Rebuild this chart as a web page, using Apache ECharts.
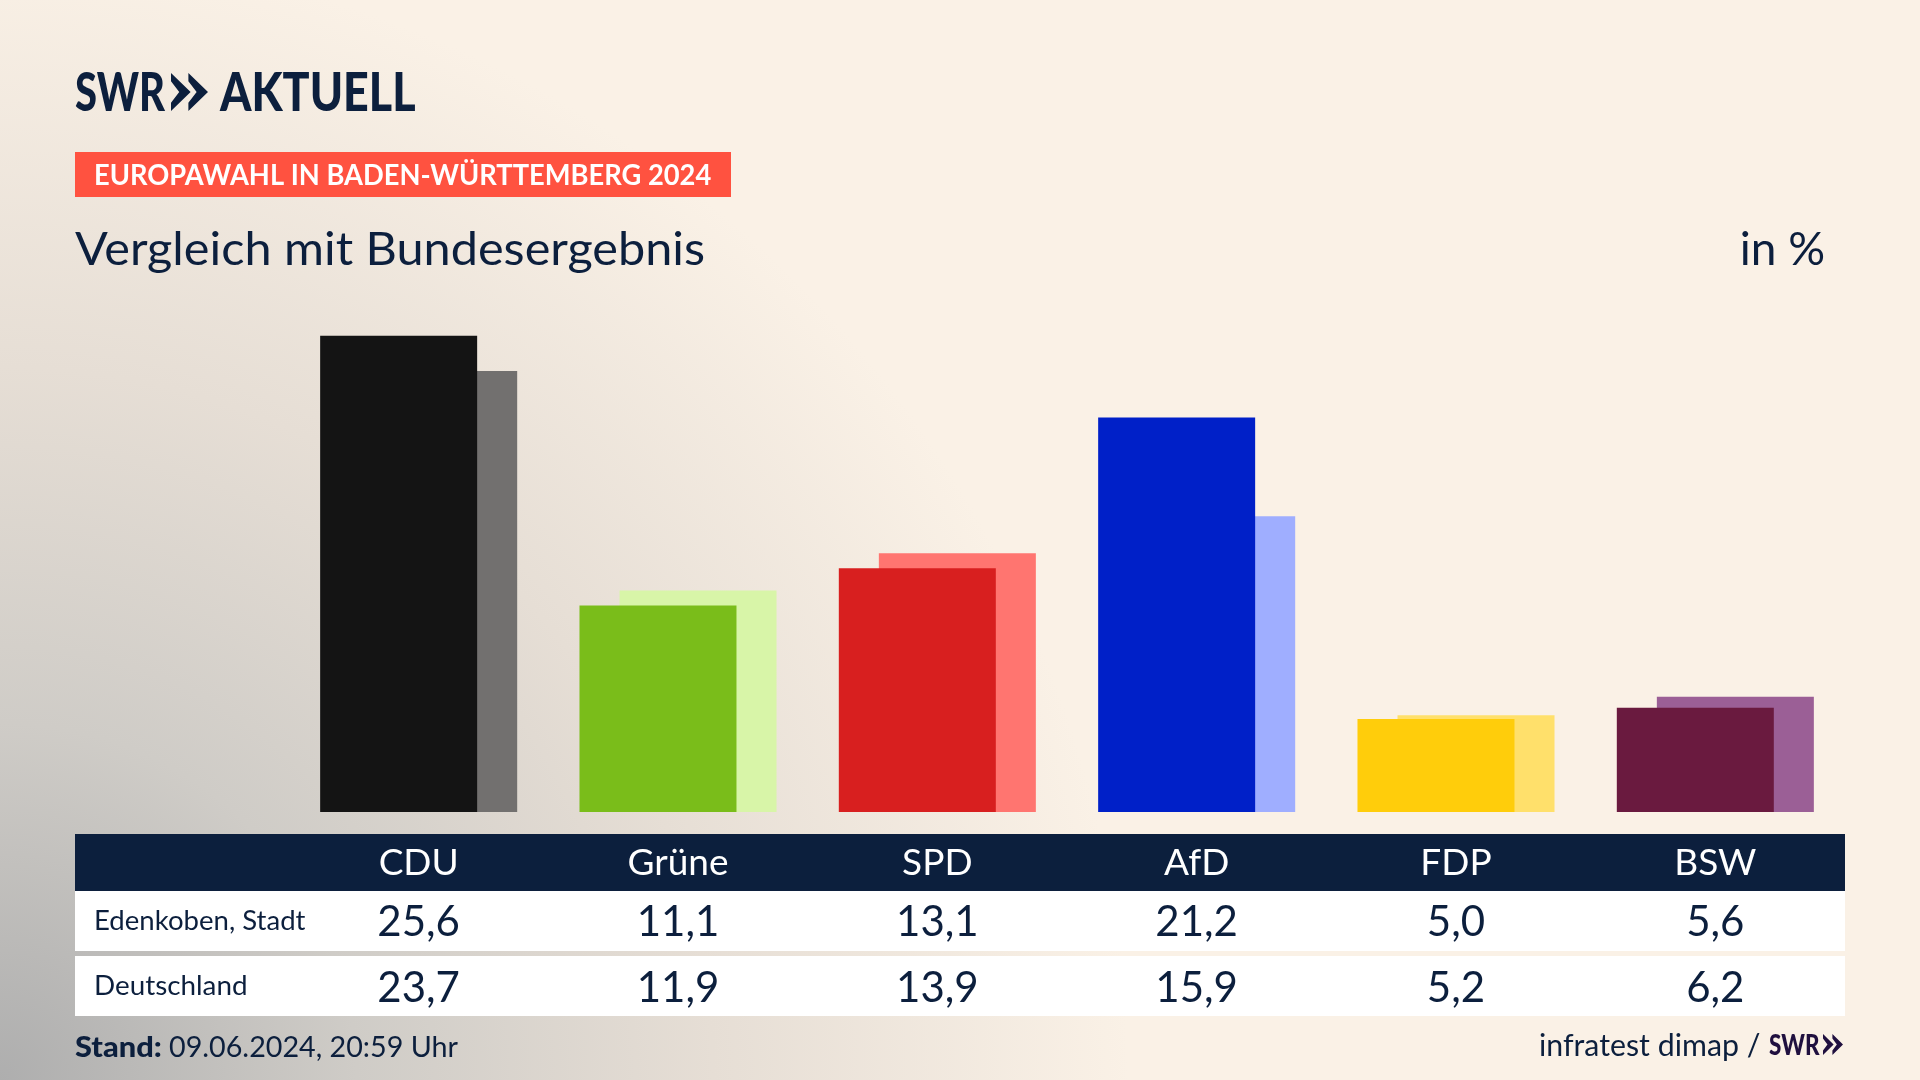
<!DOCTYPE html>
<html>
<head>
<meta charset="utf-8">
<title>Vergleich mit Bundesergebnis</title>
<script src="https://cdn.jsdelivr.net/npm/echarts@6/dist/echarts.min.js"></script>
<style>
html,body{margin:0;padding:0;background:#faf1e6;}
#chart{width:1920px;height:1080px;}
</style>
</head>
<body>
<div id="chart"></div>
<script>
var parties = ['CDU', 'Grüne', 'SPD', 'AfD', 'FDP', 'BSW'];
var edenkoben = [25.6, 11.1, 13.1, 21.2, 5.0, 5.6];
var deutschland = [23.7, 11.9, 13.9, 15.9, 5.2, 6.2];
var frontColors = ['#141414', '#7abd1a', '#d81f1f', '#0020c8', '#ffcd0b', '#6a1a3f'];
var backColors = ['#72706f', '#d8f5a8', '#ff7570', '#9faeff', '#ffe06b', '#9b5f96'];
var rowNames = ['Edenkoben, Stadt', 'Deutschland'];

var navy = '#0c1f3d';
var font = 'Lato';

function comma(v){
    return v.toFixed(1).replace('.', ',');
}
function colored(values, colors){
    return values.map(function(v, i){
        return {value: v, itemStyle: {color: colors[i]}};
    });
}
// one hidden category axis per table row, only the labels show
function tableAxis(data, margin, color, size){
    return {
        type: 'category',
        position: 'bottom',
        gridIndex: 0,
        z: 5,
        data: data,
        axisLine: {show: false},
        axisTick: {show: false},
        axisLabel: {
            show: true,
            interval: 0,
            margin: margin,
            color: color,
            fontFamily: font,
            fontSize: size,
            verticalAlign: 'middle'
        }
    };
}
function txt(x, y, text, size, color, weight, align, sx){
    return {
        type: 'text',
        x: x,
        y: y,
        scaleX: sx || 1,
        z: 10,
        style: {
            text: text,
            fontFamily: font,
            fontSize: size,
            fontWeight: weight || 'normal',
            fill: color,
            textAlign: align || 'left',
            textVerticalAlign: 'middle'
        }
    };
}
function box(x, y, w, h, color){
    return {type: 'rect', shape: {x: x, y: y, width: w, height: h}, style: {fill: color}, z: 1};
}
// the two arrow heads of the SWR logo
function chevrons(x, y, w, h, color){
    var out = [];
    [0, w * 0.47].forEach(function(dx){
        var cw = w * 0.53;
        out.push({
            type: 'polygon',
            z: 10,
            shape: {points: [
                [x + dx, y], [x + dx + cw, y + h / 2], [x + dx, y + h],
                [x + dx, y + h * 0.78], [x + dx + cw * 0.42, y + h / 2], [x + dx, y + h * 0.22]
            ]},
            style: {fill: color}
        });
    });
    return out;
}

var graphics = [
    box(75, 152, 656, 45, '#ff5240'),
    box(75, 834, 1770, 57, navy),
    box(75, 891, 1770, 60, '#ffffff'),
    box(75, 956, 1770, 60, '#ffffff'),
    txt(75, 94, 'SWR', 54, navy, '900', 'left', 0.74),
    txt(220, 94, 'AKTUELL', 54, navy, '900', 'left', 0.83),
    txt(94, 176, 'EUROPAWAHL IN BADEN-WÜRTTEMBERG 2024', 28, '#ffffff', 'bold', 'left', 0.975),
    txt(75, 250, 'Vergleich mit Bundesergebnis', 46, navy, 'normal', 'left', 1.057),
    txt(1825, 250, 'in %', 46, navy, 'normal', 'right'),
    txt(94, 922, rowNames[0], 26, navy, 'normal', 'left', 1.06),
    txt(94, 987, rowNames[1], 26, navy, 'normal', 'left', 1.07),
    txt(75, 1048, 'Stand:', 28, navy, '900', 'left', 1.1),
    txt(169, 1048, '09.06.2024, 20:59 Uhr', 28, navy, 'normal', 'left', 1.025),
    txt(1539, 1046, 'infratest dimap /', 30, navy, 'normal', 'left', 1.01),
    txt(1769, 1046, 'SWR', 28, '#20103f', '900', 'left', 0.8)
].concat(chevrons(171, 73, 37, 38, navy), chevrons(1823, 1034, 20, 21, '#20103f'));

var chart = echarts.init(document.getElementById('chart'));
chart.setOption({
    animation: false,
    backgroundColor: {
        type: 'radial',
        x: 0,
        y: 1,
        r: 1.1,
        colorStops: [
            {offset: 0, color: '#aeaeae'},
            {offset: 0.3, color: '#cfccc7'},
            {offset: 0.6, color: '#e6ded5'},
            {offset: 0.95, color: '#faf1e6'},
            {offset: 1, color: '#faf1e6'}
        ]
    },
    grid: {left: 289, right: 75, top: 291, bottom: 268},
    xAxis: [
        tableAxis(parties, 51, '#ffffff', 37),
        tableAxis(edenkoben.map(comma), 110, navy, 42),
        tableAxis(deutschland.map(comma), 176, navy, 42)
    ],
    yAxis: {type: 'value', min: 0, max: 28, show: false},
    graphic: graphics,
    series: [
        {
            name: rowNames[0],
            type: 'bar',
            z: 3,
            barWidth: 157,
            barGap: '-74.5%',
            data: colored(edenkoben, frontColors)
        },
        {
            name: rowNames[1],
            type: 'bar',
            z: 2,
            barWidth: 157,
            data: colored(deutschland, backColors)
        }
    ]
});
</script>
</body>
</html>
